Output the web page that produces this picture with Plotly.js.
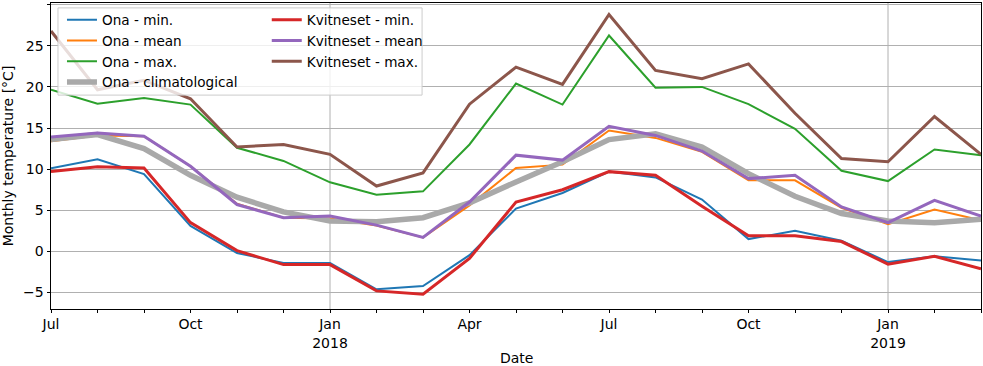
<!DOCTYPE html>
<html>
<head>
<meta charset="utf-8">
<script src="https://cdn.plot.ly/plotly-3.0.1.min.js"></script>
<style>
  html, body { margin: 0; padding: 0; background: #fff; }
  #plot { width: 983px; height: 366px; }
</style>
</head>
<body>
<div id="plot"></div>
<script>
// months, Jul 2017 .. Mar 2019
const months = ['2017-07', '2017-08', '2017-09', '2017-10', '2017-11', '2017-12',
                '2018-01', '2018-02', '2018-03', '2018-04', '2018-05', '2018-06',
                '2018-07', '2018-08', '2018-09', '2018-10', '2018-11', '2018-12',
                '2019-01', '2019-02', '2019-03'];
const monthLabels = ['Jul', '', '', 'Oct', '', '', 'Jan<br>2018', '', '', 'Apr', '', '',
                     'Jul', '', '', 'Oct', '', '', 'Jan<br>2019', '', ''];
const yearStarts = ['2018-01', '2019-01'];

const onaMin  = [10.1, 11.2, 9.4, 3.1, -0.2, -1.4, -1.4, -4.6, -4.2, -0.45, 5.2, 7.1,
                 9.7, 9.0, 6.3, 1.5, 2.5, 1.3, -1.3, -0.6, -1.1];
const onaMean = [13.4, 14.1, 14.0, 10.35, 5.8, 4.1, 4.0, 3.15, 1.7, 5.6, 10.15, 10.55,
                 14.7, 13.8, 12.1, 8.65, 8.65, 5.3, 3.3, 5.1, 3.8];
const onaMax  = [19.65, 17.95, 18.65, 17.85, 12.6, 11.0, 8.4, 6.9, 7.3, 13.0, 20.4, 17.85,
                 26.25, 19.9, 20.0, 17.9, 14.9, 9.8, 8.55, 12.4, 11.7];
const onaClim = [13.6, 14.2, 12.5, 9.25, 6.6, 4.8, 3.7, 3.6, 4.1, 5.9, 8.45, 10.9,
                 13.6, 14.3, 12.7, 9.45, 6.7, 4.6, 3.7, 3.5, 3.9];
const kviMin  = [9.7, 10.3, 10.15, 3.5, 0.1, -1.6, -1.6, -4.8, -5.2, -0.85, 6.0, 7.5,
                 9.7, 9.25, 5.5, 1.9, 1.9, 1.2, -1.55, -0.6, -2.1];
const kviMean = [13.9, 14.4, 14.0, 10.35, 5.7, 4.1, 4.3, 3.2, 1.7, 6.0, 11.7, 11.1,
                 15.2, 14.1, 12.2, 8.85, 9.25, 5.4, 3.5, 6.2, 4.3];
const kviMax  = [26.8, 19.65, 20.8, 18.55, 12.7, 13.0, 11.8, 7.95, 9.55, 17.9, 22.4, 20.3,
                 28.8, 22.0, 21.0, 22.8, 16.8, 11.3, 10.9, 16.4, 11.8];

// Ona in first legend column, Kvitneset in the second
const series = [
    { name: 'Ona - min.',           y: onaMin,  color: '#1f77b4', width: 2,   legend: 'legend' },
    { name: 'Ona - mean',           y: onaMean, color: '#ff7f0e', width: 2,   legend: 'legend' },
    { name: 'Ona - max.',           y: onaMax,  color: '#2ca02c', width: 2,   legend: 'legend' },
    { name: 'Ona - climatological', y: onaClim, color: '#a9a9a9', width: 5.5, legend: 'legend' },
    { name: 'Kvitneset - min.',     y: kviMin,  color: '#d62728', width: 3,   legend: 'legend2' },
    { name: 'Kvitneset - mean',     y: kviMean, color: '#9467bd', width: 3,   legend: 'legend2' },
    { name: 'Kvitneset - max.',     y: kviMax,  color: '#8c564b', width: 3,   legend: 'legend2' },
];

const traces = series.map(s => ({
    x: months,
    y: s.y,
    type: 'scatter',
    mode: 'lines',
    name: s.name,
    legend: s.legend,
    line: { color: s.color, width: s.width },
}));

const font = { family: 'DejaVu Sans', size: 14, color: '#000' };

const legendBase = {
    y: 0.995, xanchor: 'left', yanchor: 'top',
    orientation: 'v',
    traceorder: 'normal',
    bgcolor: 'rgba(0,0,0,0)',
    borderwidth: 0,
    font: { family: 'DejaVu Sans', size: 13.6, color: '#000' },
};

const layout = {
    width: 983,
    height: 366,
    margin: { l: 51, r: 2, t: 3, b: 57 },
    paper_bgcolor: '#fff',
    plot_bgcolor: '#fff',
    font: font,
    showlegend: true,
    legend: Object.assign({ x: 0.0118 }, legendBase),
    legend2: Object.assign({ x: 0.232 }, legendBase),
    xaxis: {
        type: 'category',
        range: [0, months.length - 1],
        tickvals: months,
        ticktext: monthLabels,
        ticks: 'outside',
        ticklen: 2.5,
        tickcolor: '#000',
        showgrid: false,
        zeroline: false,
        showline: true,
        mirror: true,
        linecolor: '#000',
        linewidth: 1,
        automargin: false,
    },
    yaxis: {
        range: [-7.0, 30.2],
        tickvals: [-5, 0, 5, 10, 15, 20, 25, 30],
        ticks: 'outside',
        ticklen: 3.5,
        tickcolor: '#000',
        gridcolor: '#b0b0b0',
        gridwidth: 1,
        zeroline: false,
        showline: true,
        mirror: true,
        linecolor: '#000',
        linewidth: 1,
        title: { text: 'Monthly temperature [°C]', font: font, standoff: 6 },
        automargin: false,
    },
    // x title as annotation so it can sit as low as in the original
    annotations: [{
        text: 'Date', xref: 'paper', yref: 'paper',
        x: 0.5, y: 0, xanchor: 'center', yanchor: 'top',
        yshift: -39, showarrow: false, font: font,
    }],
    shapes: [
        // vertical grid only on year starts (major ticks)
        ...yearStarts.map(m => ({
            type: 'line', xref: 'x', yref: 'paper',
            x0: m, x1: m, y0: 0, y1: 1,
            layer: 'below',
            line: { color: '#b0b0b0', width: 1 },
        })),
        // shared legend frame behind both legend columns
        {
            type: 'rect', xref: 'paper', yref: 'paper',
            x0: 0.0075, x1: 0.399, y0: 0.699, y1: 0.984,
            layer: 'above',
            fillcolor: 'rgba(255,255,255,0.8)',
            line: { color: '#cccccc', width: 1 },
        },
    ],
};

Plotly.newPlot('plot', traces, layout, { displayModeBar: false, staticPlot: true });
</script>
</body>
</html>
